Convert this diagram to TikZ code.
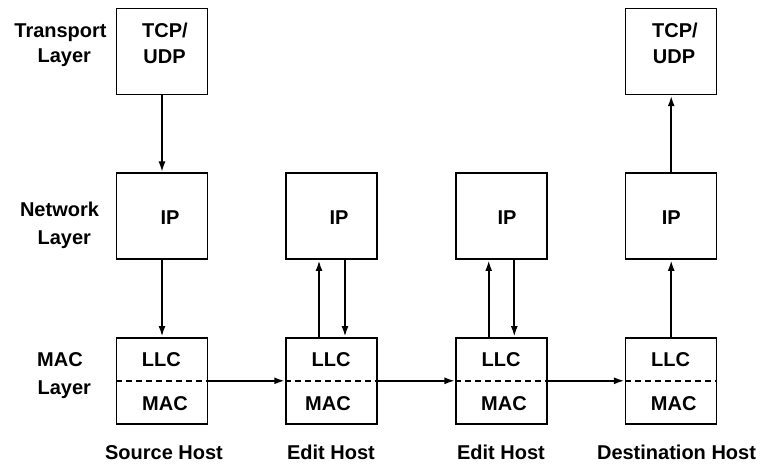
\documentclass[tikz,border=0pt]{standalone}
\usepackage{fontspec}
\setmainfont{Liberation Sans}
\usetikzlibrary{arrows.meta}
\tikzset{
  box/.style={draw, line width=1.5pt, minimum width=91pt, minimum height=86pt, inner sep=0pt},
  lbl/.style={inner sep=0pt, anchor=base, font=\fontsize{20}{24}\selectfont\bfseries},
  arr/.style={line width=2.3pt, -{Latex[length=11pt,width=7pt]}},
  sep/.style={line width=2.2pt, dash pattern=on 6pt off 4pt},
}
\begin{document}
\begin{tikzpicture}[x=1pt,y=-1pt]
\useasboundingbox (0,0) rectangle (767,465);
% boxes
\node[box] (t1) at (162,51.5) {};
\node[box] (t4) at (671.2,51.5) {};
\node[box] (i1) at (162,216.2) {};
\node[box] (i2) at (331.5,216.2) {};
\node[box] (i3) at (501.7,216.2) {};
\node[box] (i4) at (671.2,216.2) {};
\node[box] (l1) at (162,380.8) {};
\node[box] (l2) at (331.5,380.8) {};
\node[box] (l3) at (501.7,380.8) {};
\node[box] (l4) at (671.2,380.8) {};
% dashed separators
\foreach \n in {l1,l2,l3,l4} {\draw[sep] (\n.west) -- (\n.east);}
% box texts
\node[lbl] (tcp1) at (165,38) {TCP/};
\node[lbl] (udp1) at (164.5,64) {UDP};
\node[lbl] (tcp4) at (675,38) {TCP/};
\node[lbl] (udp4) at (674,64) {UDP};
\node[lbl] (ip1) at (170,224) {IP};
\node[lbl] (ip2) at (339,224) {IP};
\node[lbl] (ip3) at (507,224) {IP};
\node[lbl] (ip4) at (671.3,224) {IP};
\node[lbl] (llc1) at (161.3,366.5) {LLC};
\node[lbl] (llc2) at (331,366.5) {LLC};
\node[lbl] (llc3) at (501,366.5) {LLC};
\node[lbl] (llc4) at (670.5,366.5) {LLC};
\node[lbl] (mac1) at (165,410) {MAC};
\node[lbl] (mac2) at (328,410) {MAC};
\node[lbl] (mac3) at (504,410) {MAC};
\node[lbl] (mac4) at (673.7,410) {MAC};
% layer labels
\node[lbl] (trl1) at (60.5,38) {Transport};
\node[lbl] (trl2) at (64.3,63) {Layer};
\node[lbl] (nwl1) at (59.5,216) {Network};
\node[lbl] (nwl2) at (64.3,244) {Layer};
\node[lbl] (mcl1) at (60,366.5) {MAC};
\node[lbl] (mcl2) at (64.3,394) {Layer};
% host labels
\node[lbl] (h1) at (164,459) {Source Host};
\node[lbl] (h2) at (331,459) {Edit Host};
\node[lbl] (h3) at (501,459) {Edit Host};
\node[lbl] (h4) at (676.5,459) {Destination Host};
% vertical arrows
\draw[arr] (t1.south) -- (i1.north);
\draw[arr] (i1.south) -- (l1.north);
\draw[arr] ([xshift=-12.5pt]l2.north) -- ([xshift=-12.5pt]i2.south);
\draw[arr] ([xshift=13.5pt]i2.south) -- ([xshift=13.5pt]l2.north);
\draw[arr] ([xshift=-13pt]l3.north) -- ([xshift=-13pt]i3.south);
\draw[arr] ([xshift=12.6pt]i3.south) -- ([xshift=12.6pt]l3.north);
\draw[arr] (l4.north) -- (i4.south);
\draw[arr] (i4.north) -- (t4.south);
% horizontal arrows
\draw[arr] (l1.east) -- (l2.west);
\draw[arr] (l2.east) -- (l3.west);
\draw[arr] (l3.east) -- (l4.west);
\end{tikzpicture}
\end{document}
